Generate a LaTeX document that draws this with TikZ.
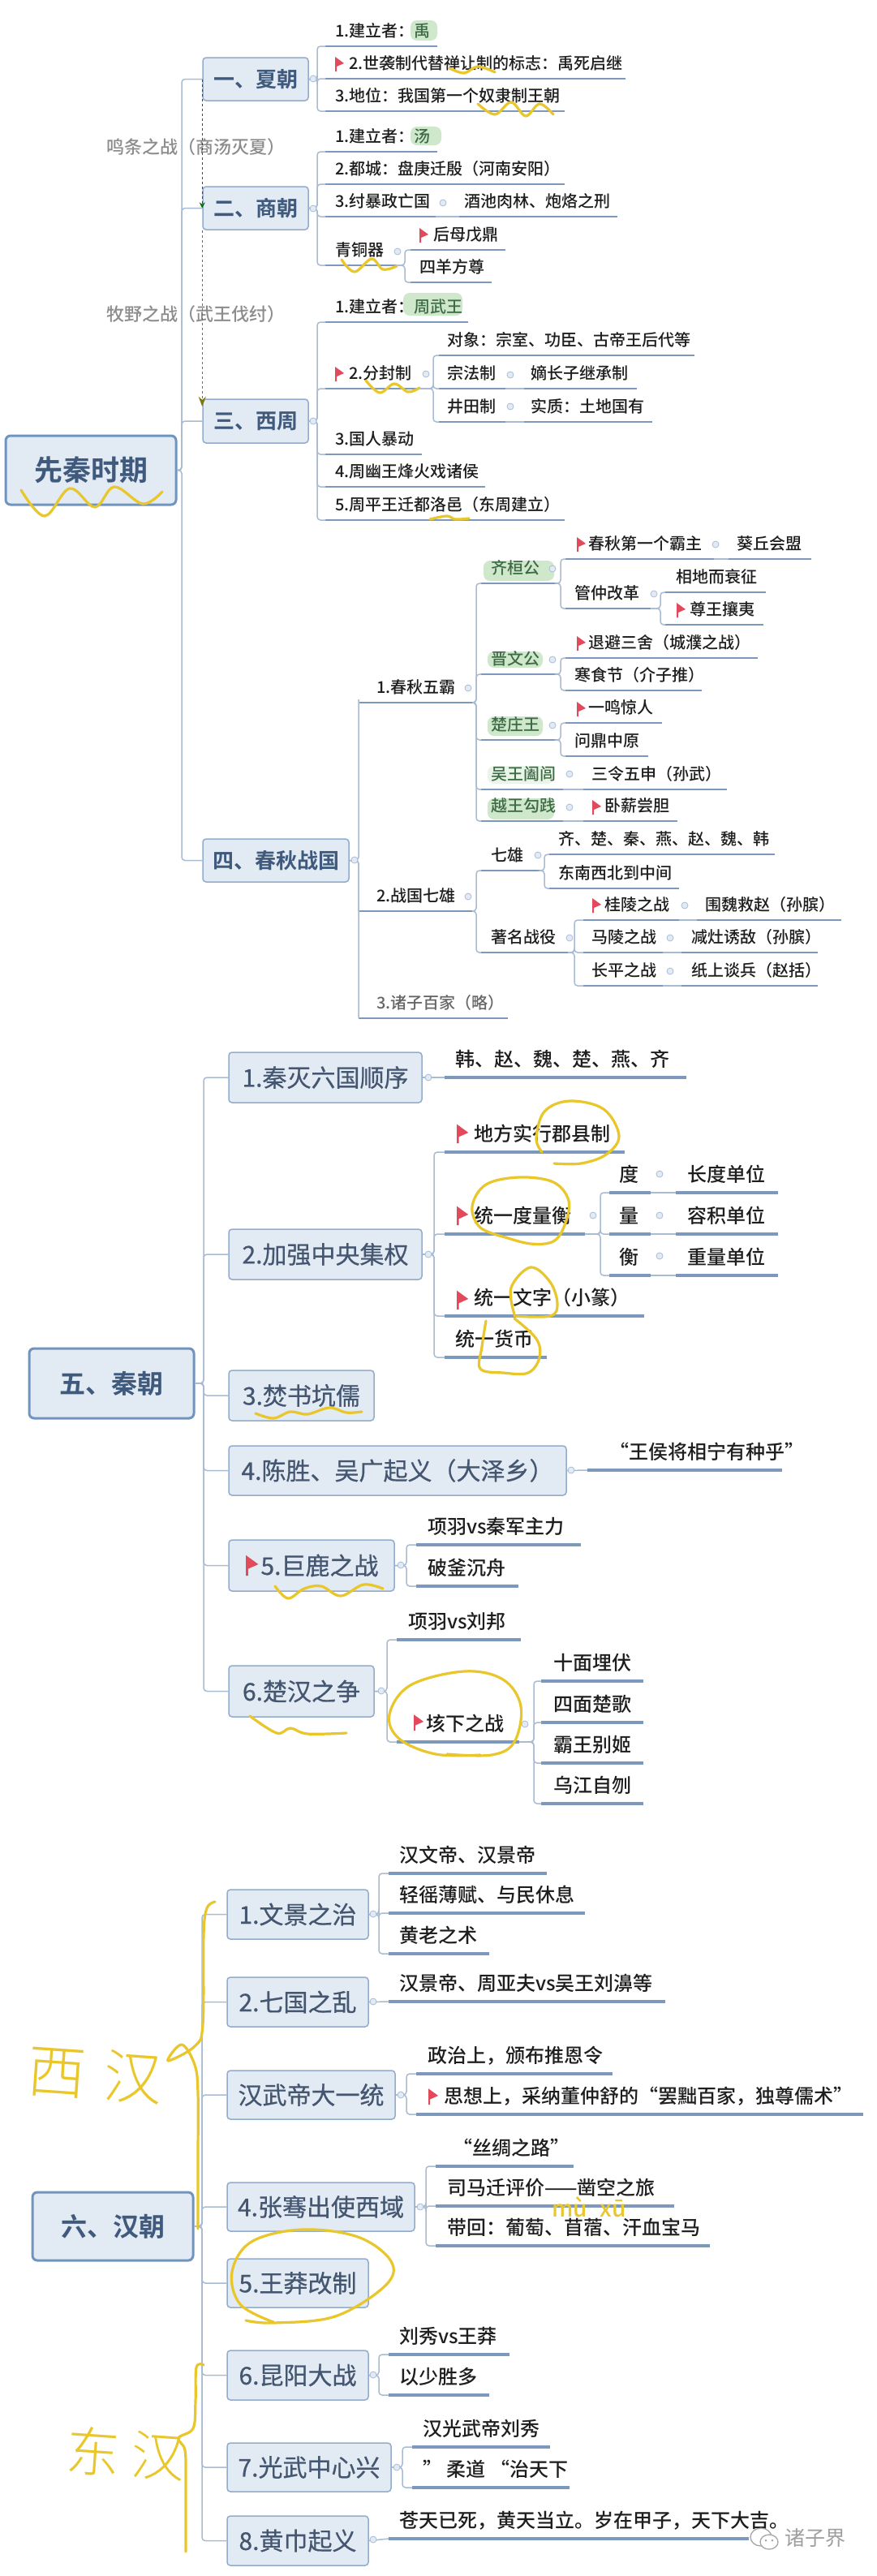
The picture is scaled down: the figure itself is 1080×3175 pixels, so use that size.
\documentclass[tikz,border=0pt]{standalone}
\usepackage{fontspec}
\setmainfont{Noto Sans CJK SC}
\newfontfamily\mfont{Noto Sans CJK SC Medium}
\newfontfamily\bfont{Noto Sans CJK SC Bold}
\newfontfamily\hfont[FakeBold=0.6]{Noto Sans CJK SC}
\newfontfamily\thinf{Noto Sans CJK SC Light}
\usetikzlibrary{arrows.meta,shapes.geometric}
\definecolor{boxfill}{HTML}{E2EAF4}
\definecolor{boxline}{HTML}{93ACCB}
\definecolor{rootline}{HTML}{6F94C0}
\definecolor{boxtext}{HTML}{445670}
\definecolor{roottext}{HTML}{3F5A7C}
\definecolor{ulcol}{HTML}{7C98BC}
\definecolor{conncol}{HTML}{A9BBD2}
\definecolor{hlfill}{HTML}{CFE8CC}
\definecolor{greent}{HTML}{3E6B45}
\definecolor{yel}{HTML}{E9C72A}
\definecolor{flagred}{HTML}{E2495A}
\definecolor{leaftext}{HTML}{1E1E1E}
\tikzset{
  lf/.style={font=\mfont\fontsize{20}{24}\selectfont},
  ulw/.style={line width=2.4pt},
  ul/.style={draw=ulcol,ulw},
  conn/.style={draw=conncol,line width=1.5pt,rounded corners=4pt},
  dotm/.style={circle,draw=boxline!80,fill=boxfill,line width=.8pt,minimum size=8pt,inner sep=0pt},
  boxn/.style={rectangle,rounded corners=4pt,draw=boxline,fill=boxfill,line width=1.5pt,text=boxtext,inner sep=0pt,font=\hfont\fontsize{30}{36}\selectfont},
  headn/.style={boxn,font=\bfont\fontsize{26}{30}\selectfont,text=roottext},
  rootn/.style={boxn,draw=rootline,line width=3pt,rounded corners=6pt,text=roottext},
  hl/.style={fill=hlfill,rounded corners=8pt},
  yl/.style={draw=yel,line width=3.2pt,line cap=round,line join=round},
  graylab/.style={text=gray!90,font=\mfont\fontsize{22}{26}\selectfont,inner sep=0pt},
  dashg/.style={draw=#1,line width=1.3pt,dashed},
}
\newcommand{\leaf}[7][]{%
  \node[lf,text=leaftext,inner sep=0pt,anchor=south west,#1] (#2) at (#3,#5)
    {\makebox[\dimexpr#4pt-#3pt\relax][l]{\hspace*{\dimexpr#6pt-#3pt\relax}\rule[-.56em]{0pt}{1.2em}#7}};
  \draw[ul] (#2.south west) -- (#2.south east);}
\newcommand{\br}[3]{\draw[conn] (#1) -- (#2,0 |- #1) -- (#2,0 |- #3) -- (#3);}
\newcommand{\bx}[7][headn]{\node[#1,minimum width=\dimexpr#4pt-#3pt\relax,minimum height=\dimexpr#6pt-#5pt\relax] (#2) at ({(#3+#4)/2},{(#5+#6)/2}) {#7};}
\newcommand{\dotn}[3]{\node[dotm] (#1) at (#2,#3) {};}
\newcommand{\flg}[3][1]{\fill[flagred] (#2,#3-8*#1) -- (#2+11*#1,#3) -- (#2+2*#1,#3+4*#1) -- (#2+2*#1,#3+10*#1) -- (#2,#3+10*#1) -- cycle;}
\newcommand{\gt}[1]{\textcolor{greent}{#1}}
\newcommand{\sq}[1]{\draw[yl] plot[smooth,tension=.6] coordinates {#1};}
\begin{document}
\begin{tikzpicture}[x=1pt,y=-1pt]
\useasboundingbox[fill=white] (0,0) rectangle (1080,3175);
% highlights
\fill[hl] (506,25) rectangle (539,50);
\fill[hl] (506,156) rectangle (544,179);
\fill[hl] (497,361) rectangle (570,389);
\fill[hl] (596,691) rectangle (683,716);
\fill[hl] (601,803) rectangle (669,823);
\fill[hl] (601,883) rectangle (669,907);
\fill[hl,fill=hlfill!45] (601,944) rectangle (683,966);
\fill[hl] (601,984) rectangle (683,1010);
% ---------- section 1 boxes
\bx[rootn,font=\bfont\fontsize{35}{40}\selectfont]{root}{7}{217}{537}{622}{先秦时期}
\bx{xia}{250}{380}{71}{124}{一、夏朝}
\bx{shang}{250}{380}{230}{283}{二、商朝}
\bx{zhou}{250}{380}{492}{546}{三、西周}
\bx{cz}{250}{430}{1034}{1087}{四、春秋战国}
\br{root.east}{224}{xia.west}
\br{root.east}{224}{shang.west}
\br{root.east}{224}{zhou.west}
\br{root.east}{224}{cz.west}
\node[graylab,anchor=west] (mt) at (131,181) {鸣条之战（商汤灭夏）};
\node[graylab,anchor=west] (my) at (131,387) {牧野之战（武王伐纣）};
\draw[dashg=green!45!black,-{Stealth[length=7pt,width=7pt]}] (xia.west) -- (shang.west);
\draw[dashg=olive!85!black,-{Stealth[length=12pt,width=9pt]},shorten >=18pt] (shang.south west) -- (zhou.west);
% xia
\leaf{x1}{401}{539}{57}{413}{1.建立者：\gt{禹}}
\leaf{x2}{401}{771}{97}{430}{2.世袭制代替禅让制的标志：禹死启继}\flg{413}{78}
\leaf{x3}{401}{696}{137}{413}{3.地位：我国第一个奴隶制王朝}
\br{xia.east}{391}{x1.south west}\br{xia.east}{391}{x2.south west}\br{xia.east}{391}{x3.south west}
\dotn{dxia}{386}{97}
% shang
\leaf{s1}{401}{539}{187}{413}{1.建立者：\gt{汤}}
\leaf{s2}{401}{696}{227}{413}{2.都城：盘庚迁殷（河南安阳）}
\leaf{s3}{401}{537}{267}{413}{3.纣暴政亡国}
\leaf{s3b}{566}{761}{267}{572}{酒池肉林、炮烙之刑}
\leaf{s4}{401}{489}{327}{413}{青铜器}
\leaf{s4a}{506}{623}{308}{534}{后母戊鼎}\flg{517}{289}
\leaf{s4b}{506}{606}{348}{517}{四羊方尊}
\br{shang.east}{391}{s1.south west}\br{shang.east}{391}{s2.south west}\br{shang.east}{391}{s3.south west}\br{shang.east}{391}{s4.south west}
\draw[conn] (s3.south east) -- (s3b.south west);
\br{s4.south east}{499}{s4a.south west}\br{s4.south east}{499}{s4b.south west}
\dotn{dshang}{386}{257}\dotn{ds3}{546}{250}\dotn{ds4}{490}{310}
% zhou
\leaf{z1}{401}{577}{397}{413}{1.建立者：\gt{周武王}}
\leaf{z2}{401}{517}{479}{430}{2.分封制}\flg{413}{460}
\leaf{z2a}{541}{856}{438}{551}{对象：宗室、功臣、古帝王后代等}
\leaf{z2b}{541}{623}{479}{551}{宗法制}
\leaf{z2bb}{646}{785}{479}{654}{嫡长子继承制}
\leaf{z2c}{541}{623}{520}{551}{井田制}
\leaf{z2cc}{646}{804}{520}{654}{实质：土地国有}
\leaf{z3}{401}{520}{560}{413}{3.国人暴动}
\leaf{z4}{401}{598}{600}{413}{4.周幽王烽火戏诸侯}
\leaf{z5}{401}{696}{641}{413}{5.周平王迁都洛邑（东周建立）}
\foreach \c in {z1,z2,z3,z4,z5}{\br{zhou.east}{391}{\c.south west}}
\foreach \c in {z2a,z2b,z2c}{\br{z2.south east}{534}{\c.south west}}
\draw[conn] (z2b.south east) -- (z2bb.south west);
\draw[conn] (z2c.south east) -- (z2cc.south west);
\dotn{dzhou}{386}{519}\dotn{dz2}{525}{461}\dotn{dz2b}{629}{462}\dotn{dz2c}{629}{501}
% chunqiu zhanguo
\leaf{c1}{442}{582}{866}{464}{1.春秋五霸}
\leaf{c2}{442}{582}{1123}{464}{2.战国七雄}
\leaf[text=gray!120]{c3}{442}{626}{1255}{464}{3.诸子百家（略）}
\foreach \c in {c1,c2,c3}{\br{cz.east}{442}{\c.south west}}
\leaf{q}{593}{688}{719}{605}{\gt{齐桓公}}
\leaf{q1}{697}{880}{689}{725}{春秋第一个霸主}\flg{711}{670}
\leaf{q1b}{898}{1000}{689}{908}{葵丘会盟}
\leaf{q2}{697}{802}{750}{708}{管仲改革}
\leaf{q2a}{820}{944}{730}{833}{相地而衰征}
\leaf{q2b}{820}{941}{770}{850}{尊王攘夷}\flg{834}{751}
\leaf{j}{593}{688}{831}{605}{\gt{晋文公}}
\leaf{j1}{697}{934}{811}{725}{退避三舍（城濮之战）}\flg{711}{792}
\leaf{j2}{697}{865}{851}{708}{寒食节（介子推）}
\leaf{ch}{593}{688}{912}{605}{\gt{楚庄王}}
\leaf{ch1}{697}{816}{891}{725}{一鸣惊人}\flg{711}{873}
\leaf{ch2}{697}{799}{932}{708}{问鼎中原}
\leaf{w}{593}{694}{973}{605}{\gt{吴王阖闾}}
\leaf{w1}{719}{896}{973}{729}{三令五申（孙武）}
\leaf{y}{593}{694}{1012}{605}{\gt{越王勾践}}
\leaf{y1}{719}{835}{1012}{745}{卧薪尝胆}\flg{730}{994}
\foreach \c in {q,j,ch,w,y}{\br{c1.south east}{587}{\c.south west}}
\draw[conn] (q1.south east) -- (q1b.south west);
\br{q.south east}{691}{q1.south west}\br{q.south east}{691}{q2.south west}
\br{q2.south east}{814}{q2a.south west}\br{q2.south east}{814}{q2b.south west}
\br{j.south east}{691}{j1.south west}\br{j.south east}{691}{j2.south west}
\br{ch.south east}{691}{ch1.south west}\br{ch.south east}{691}{ch2.south west}
\draw[conn] (w.south east) -- (w1.south west);
\draw[conn] (y.south east) -- (y1.south west);
\leaf{sx}{593}{669}{1073}{605}{七雄}
\leaf{sx1}{677}{955}{1053}{688}{齐、楚、秦、燕、赵、魏、韩}
\leaf{sx2}{677}{837}{1095}{688}{东南西北到中间}
\leaf{zm}{593}{700}{1174}{605}{著名战役}
\leaf{zm1}{719}{837}{1134}{745}{桂陵之战}\flg{730}{1115}
\leaf{zm1b}{859}{1037}{1134}{869}{围魏救赵（孙膑）}
\leaf{zm2}{719}{817}{1174}{729}{马陵之战}
\leaf{zm2b}{840}{1008}{1174}{852}{减灶诱敌（孙膑）}
\leaf{zm3}{719}{817}{1215}{729}{长平之战}
\leaf{zm3b}{840}{1008}{1215}{852}{纸上谈兵（赵括）}
\br{c2.south east}{587}{sx.south west}\br{c2.south east}{587}{zm.south west}
\br{sx.south east}{671}{sx1.south west}\br{sx.south east}{671}{sx2.south west}
\foreach \c in {zm1,zm2,zm3}{\br{zm.south east}{708}{\c.south west}}
\draw[conn] (zm1.south east) -- (zm1b.south west);
\draw[conn] (zm2.south east) -- (zm2b.south west);
\draw[conn] (zm3.south east) -- (zm3b.south west);
\dotn{dcz}{437}{1060}\dotn{dc1}{577}{848}\dotn{dc2}{577}{1105}\dotn{dq}{681}{701}\dotn{dq1}{882}{671}\dotn{dq2}{806}{732}\dotn{dj}{681}{813}\dotn{dch}{681}{894}\dotn{dw}{702}{954}\dotn{dy}{702}{995}\dotn{dsx}{663}{1054}\dotn{dzm}{702}{1156}\dotn{dzm1}{844}{1116}\dotn{dzm2}{826}{1156}\dotn{dzm3}{826}{1197}
% ---------- section 2
\begin{scope}[lf/.style={font=\mfont\fontsize{24}{28}\selectfont},ulw/.style={line width=3.2pt}]
\bx[rootn,font=\bfont\fontsize{32}{38}\selectfont]{qin}{36}{239}{1662}{1748}{五、秦朝}
\bx[boxn]{q_1}{282}{520}{1297}{1359}{1.秦灭六国顺序}
\bx[boxn]{q_2}{282}{520}{1515}{1577}{2.加强中央集权}
\bx[boxn]{q_3}{282}{461}{1689}{1751}{3.焚书坑儒}
\bx[boxn]{q_4}{282}{698}{1782}{1843}{4.陈胜、吴广起义（大泽乡）}
\bx[boxn]{q_5}{282}{486}{1898}{1961}{\hspace*{20pt}5.巨鹿之战}\flg[1.4]{303}{1928}
\bx[boxn]{q_6}{282}{461}{2053}{2116}{6.楚汉之争}
\foreach \c in {q_1,q_2,q_3,q_4,q_5,q_6}{\br{qin.east}{251}{\c.west}}
\leaf{qa}{548}{846}{1328}{561}{韩、赵、魏、楚、燕、齐}
\draw[conn] (q_1.east) -- (qa.south west);
\leaf{qb1}{548}{770}{1420}{584}{地方实行郡县制}\flg[1.3]{563}{1396}
\leaf{qb2}{548}{721}{1521}{584}{统一度量衡}\flg[1.3]{563}{1497}
\leaf{qb3}{548}{794}{1622}{584}{统一文字（小篆）}\flg[1.3]{563}{1601}
\leaf{qb4}{548}{674}{1673}{561}{统一货币}
\foreach \c in {qb1,qb2,qb3,qb4}{\br{q_2.east}{535}{\c.south west}}
\leaf{du}{751}{802}{1470}{763}{度}
\leaf{dub}{833}{959}{1470}{847}{长度单位}
\leaf{li}{751}{802}{1521}{763}{量}
\leaf{lib}{833}{959}{1521}{847}{容积单位}
\leaf{he}{751}{802}{1572}{763}{衡}
\leaf{heb}{833}{959}{1572}{847}{重量单位}
\foreach \c in {du,li,he}{\br{qb2.south east}{740}{\c.south west}}
\draw[conn] (du.south east) -- (dub.south west);
\draw[conn] (li.south east) -- (lib.south west);
\draw[conn] (he.south east) -- (heb.south west);
\leaf{qd}{724}{964}{1812}{751}{“王侯将相宁有种乎”}
\draw[conn] (q_4.east) -- (qd.south west);
\leaf{qe1}{513}{716}{1904}{527}{项羽vs秦军主力}
\leaf{qe2}{513}{639}{1955}{527}{破釜沉舟}
\br{q_5.east}{501}{qe1.south west}\br{q_5.east}{501}{qe2.south west}
\leaf{qf1}{489}{642}{2021}{503}{项羽vs刘邦}
\leaf{qf2}{489}{640}{2147}{525}{垓下之战}\flg[1.1]{510}{2122}
\br{q_6.east}{477}{qf1.south west}\br{q_6.east}{477}{qf2.south west}
\leaf{qg1}{667}{793}{2072}{682}{十面埋伏}
\leaf{qg2}{667}{793}{2123}{682}{四面楚歌}
\leaf{qg3}{667}{793}{2173}{682}{霸王别姬}
\leaf{qg4}{667}{793}{2223}{682}{乌江自刎}
\foreach \c in {qg1,qg2,qg3,qg4}{\br{qf2.south east}{658}{\c.south west}}
\dotn{dq_1}{528}{1328}\dotn{dq_2}{528}{1546}\dotn{dqb2}{731}{1498}\dotn{ddu}{813}{1447}\dotn{dli}{813}{1498}\dotn{dhe}{813}{1548}\dotn{dq_4}{704}{1812}\dotn{dq_5}{494}{1929}\dotn{dq_6}{470}{2084}\dotn{dqf2}{647}{2125}
% ---------- section 3
\bx[rootn,font=\bfont\fontsize{32}{38}\selectfont]{han}{40}{238}{2702}{2786}{六、汉朝}
\bx[boxn]{h_1}{280}{454}{2329}{2390}{1.文景之治}
\bx[boxn]{h_2}{280}{454}{2437}{2498}{2.七国之乱}
\bx[boxn]{h_3}{280}{487}{2552}{2612}{汉武帝大一统}
\bx[boxn]{h_4}{280}{511}{2690}{2750}{4.张骞出使西域}
\bx[boxn]{h_5}{280}{454}{2784}{2844}{5.王莽改制}
\bx[boxn]{h_6}{280}{454}{2897}{2958}{6.昆阳大战}
\bx[boxn]{h_7}{280}{482}{3011}{3071}{7.光武中心兴}
\bx[boxn]{h_8}{280}{454}{3101}{3162}{8.黄巾起义}
\foreach \c in {h_1,h_2,h_3,h_4,h_5,h_6,h_7,h_8}{\br{han.east}{249}{\c.west}}
\leaf{ha1}{479}{674}{2309}{492}{汉文帝、汉景帝}
\leaf{ha2}{479}{721}{2358}{492}{轻徭薄赋、与民休息}
\leaf{ha3}{479}{603}{2408}{492}{黄老之术}
\foreach \c in {ha1,ha2,ha3}{\br{h_1.east}{467}{\c.south west}}
\leaf{hb}{479}{820}{2467}{492}{汉景帝、周亚夫vs吴王刘濞等}
\draw[conn] (h_2.east) -- (hb.south west);
\leaf{hc1}{513}{755}{2556}{527}{政治上，颁布推恩令}
\leaf{hc2}{513}{1064}{2606}{547}{思想上，采纳董仲舒的“罢黜百家，独尊儒术”}\flg[1.1]{528}{2583}
\br{h_3.east}{501}{hc1.south west}\br{h_3.east}{501}{hc2.south west}
\leaf{hd1}{537}{707}{2670}{558}{“丝绸之路”}
\leaf{hd2}{537}{831}{2719}{551}{司马迁评价——凿空之旅}
\leaf{hd3}{537}{875}{2768}{551}{带回：葡萄、苜蓿、汗血宝马}
\foreach \c in {hd1,hd2,hd3}{\br{h_4.east}{525}{\c.south west}}
\leaf{he1}{479}{628}{2902}{492}{刘秀vs王莽}
\leaf{he2}{479}{603}{2952}{492}{以少胜多}
\br{h_6.east}{467}{he1.south west}\br{h_6.east}{467}{he2.south west}
\leaf{hf1}{508}{678}{3016}{521}{汉光武帝刘秀}
\leaf{hf2}{508}{702}{3066}{521}{” 柔道 “治天下}
\br{h_7.east}{496}{hf1.south west}\br{h_7.east}{496}{hf2.south west}
\leaf{hg}{479}{923}{3129}{492}{苍天已死，黄天当立。岁在甲子，天下大吉。}
\draw[conn] (h_8.east) -- (hg.south west);
\dotn{dh_1}{460}{2359}\dotn{dh_2}{460}{2467}\dotn{dh_3}{494}{2582}\dotn{dh_4}{518}{2720}\dotn{dh_6}{460}{2927}\dotn{dh_7}{489}{3041}\dotn{dh_8}{460}{3130}
\end{scope}
% watermark
\draw[gray!70,line width=1.3pt,fill=white] (938,3127) ellipse (13 and 11);
\draw[gray!70,line width=1.3pt,fill=white] (948,3133) ellipse (11 and 9);
\fill[gray!70] (944,3131) circle (1.5) (952,3131) circle (1.5);
\node[text=gray!75,font=\fontsize{25}{28}\selectfont,inner sep=0pt] (wm) at (1005,3128) {诸子界};
% yellow annotations
\sq{(26,604)(55,636)(86,602)(117,625)(141,600)(176,621)(200,606)}
\sq{(554,84)(572,90)(589,82)(610,89)}
\sq{(589,128)(610,141)(630,126)(648,143)(665,128)(682,141)}
\sq{(421,320)(437,335)(458,319)(472,332)(489,328)}
\sq{(451,469)(468,484)(486,473)(503,483)(517,478)}
\sq{(530,640)(551,636)(561,640)(578,639)}
\sq{(315,1742)(337,1748)(358,1740)(379,1743)(406,1735)(427,1741)(446,1740)}
\sq{(339,1955)(355,1970)(375,1958)(396,1955)(420,1967)(448,1953)(472,1958)}
\sq{(308,2115)(341,2136)(358,2130)(379,2137)(427,2136)}
\sq{(668,1420)(661,1403)(671,1370)(702,1357)(744,1367)(763,1400)(747,1423)(716,1434)(683,1434)}
\sq{(623,1525)(592,1513)(582,1487)(599,1460)(640,1451)(682,1457)(701,1480)(696,1510)(682,1530)(654,1533)(623,1525)}
\sq{(634,1620)(630,1587)(654,1562)(678,1580)(687,1607)(678,1622)(634,1622)}
\sq{(634,1625)(661,1650)(665,1673)(651,1692)(620,1692)(592,1687)(594,1660)(599,1628)}
\sq{(592,2163)(537,2162)(492,2143)(480,2113)(506,2077)(572,2060)(620,2070)(642,2103)(634,2147)(606,2163)(551,2162)}
\sq{(303,2860)(337,2863)(413,2855)(475,2817)(482,2787)(441,2757)(372,2748)(310,2763)(286,2800)(296,2840)(337,2862)}
\sq{(265,2344)(255,2352)(251,2385)(250,2495)(240,2522)(207,2540)(224,2520)(240,2545)(244,2580)(244,2660)(244,2747)}
\sq{(251,2915)(242,2918)(241,2960)(238,2993)(220,3005)(228,3020)(229,3060)(229,3145)}
\node[text=yel,font=\thinf\fontsize{72}{76}\selectfont,inner sep=0pt,rotate=-4] (xh) at (117,2557) {西\hspace{22pt}汉};
\node[text=yel,font=\thinf\fontsize{66}{70}\selectfont,inner sep=0pt,rotate=-4] (dh) at (155,3024) {东\hspace{14pt}汉};
\node[text=yel,font=\mfont\fontsize{28}{30}\selectfont,inner sep=0pt] (mx) at (726,2720) {mù\hspace{16pt}xū};
\end{tikzpicture}
\end{document}
